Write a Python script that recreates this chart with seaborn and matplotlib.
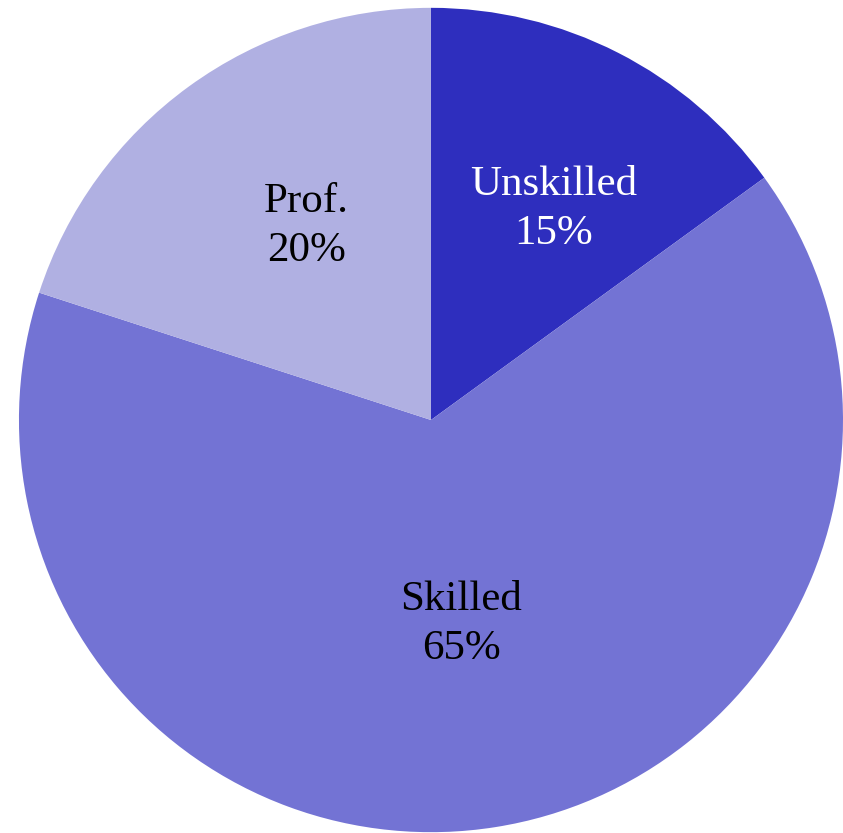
import numpy as np
import seaborn as sns
import matplotlib.pyplot as plt

categories = ['Unskilled', 'Skilled', 'Prof.']
shares = [15, 65, 20]
colors = ['#2e2ebe', '#7373d4', '#b0b0e2']
text_colors = ['white', 'black', 'black']
label_dist = [0.603, 0.488, 0.570]   # radial position of each label
label_shift = [-2.7, -0.4, -3.9]     # degrees off the wedge middle

sns.set_theme(style='white')
plt.rcParams['font.family'] = ['Liberation Serif', 'DejaVu Serif']

fig = plt.figure(figsize=(8.43, 8.33), dpi=100)
ax = fig.add_axes([0, 0, 1, 1])

labels = [f'{c}\n{s}%' for c, s in zip(categories, shares)]
wedges, texts = ax.pie(shares, labels=labels, colors=colors, startangle=90,
                       counterclock=False, labeldistance=0.6,
                       wedgeprops={'linewidth': 0},
                       textprops={'fontsize': 31, 'ha': 'center', 'va': 'center'})

for t, w, d, s, tc in zip(texts, wedges, label_dist, label_shift, text_colors):
    ang = np.deg2rad((w.theta1 + w.theta2) / 2 + s)
    # small downward nudge so the text block sits like the original
    t.set_position((d * np.cos(ang), d * np.sin(ang) - 0.012))
    t.set_color(tc)
    t.set_horizontalalignment('center')
    t.set_linespacing(1.36)

ax.set_aspect('auto')
ax.set_xlim(-1.046, 1.0)
ax.set_ylim(-1.002, 1.019)
ax.axis('off')

fig.savefig('out.png', dpi=100)
